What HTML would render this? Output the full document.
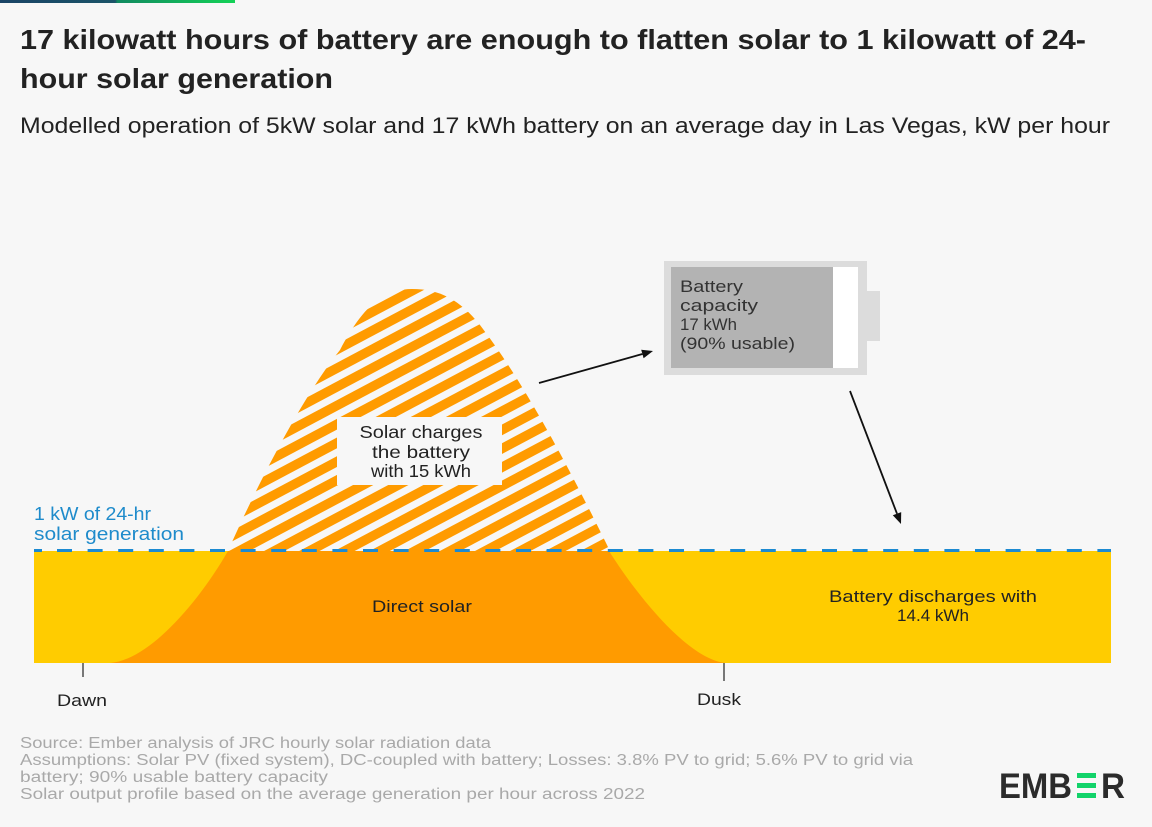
<!DOCTYPE html>
<html>
<head>
<meta charset="utf-8">
<style>
  html, body { margin:0; padding:0; background:#f7f7f7; }
  svg { display:block; }
  text { font-family: "Liberation Sans", "DejaVu Sans", sans-serif; }
</style>
</head>
<body>
<svg width="1152" height="827" viewBox="0 0 1152 827" xmlns="http://www.w3.org/2000/svg">
  <defs>
    <linearGradient id="topbar" x1="0" y1="0" x2="1" y2="0">
      <stop offset="0" stop-color="#1a4466"/>
      <stop offset="0.49" stop-color="#1b5468"/>
      <stop offset="0.5" stop-color="#118a60"/>
      <stop offset="1" stop-color="#14d257"/>
    </linearGradient>
    <pattern id="hatch" patternUnits="userSpaceOnUse" width="60" height="16.5" patternTransform="rotate(-28)">
      <rect x="0" y="0" width="60" height="9.5" fill="#FF9B00"/>
    </pattern>
  </defs>

  <rect x="0" y="0" width="1152" height="827" fill="#f7f7f7"/>
  <rect x="0" y="0" width="235" height="3" fill="url(#topbar)"/>

  <!-- Title -->
  <text x="20" y="49" font-size="28" font-weight="bold" fill="#222" textLength="1066" lengthAdjust="spacingAndGlyphs">17 kilowatt hours of battery are enough to flatten solar to 1 kilowatt of 24-</text>
  <text x="20" y="88" font-size="28" font-weight="bold" fill="#222" textLength="313" lengthAdjust="spacingAndGlyphs">hour solar generation</text>
  <text x="20" y="133" font-size="22" fill="#222" textLength="1090" lengthAdjust="spacingAndGlyphs">Modelled operation of 5kW solar and 17 kWh battery on an average day in Las Vegas, kW per hour</text>

  <!-- Yellow battery discharge band -->
  <rect x="34" y="551" width="1077" height="112" fill="#FFCC00"/>
  <!-- Direct solar orange -->
  <path d="M110,663 C150,660 200,600 228,551 L609,551 C640,600 690,660 726,663 Z" fill="#FF9B00"/>

  <!-- Hatched hump -->
  <path d="M228,551 C255,490 300,400 340,350 C360,312 380,289 412,289 C440,289 460,300 480,325 C530,390 580,490 610,551 Z" fill="url(#hatch)"/>

  <!-- Text box over hump -->
  <rect x="337" y="417" width="165" height="68" fill="#f7f7f7"/>
  <text x="421" y="438" font-size="17.5" fill="#222" text-anchor="middle" textLength="123" lengthAdjust="spacingAndGlyphs">Solar charges</text>
  <text x="421" y="458" font-size="17.5" fill="#222" text-anchor="middle" textLength="98" lengthAdjust="spacingAndGlyphs">the battery</text>
  <text x="421" y="477" font-size="17.5" fill="#222" text-anchor="middle" textLength="100" lengthAdjust="spacingAndGlyphs">with 15 kWh</text>

  <!-- Dashed 1kW line -->
  <line x1="34" y1="550.5" x2="42" y2="550.5" stroke="#1C8AD1" stroke-width="3"/>
  <line x1="57" y1="550.5" x2="1111" y2="550.5" stroke="#1C8AD1" stroke-width="3" stroke-dasharray="15 15.6"/>

  <text x="34" y="520" font-size="18" fill="#1E8BCB" textLength="117" lengthAdjust="spacingAndGlyphs">1 kW of 24-hr</text>
  <text x="34" y="540" font-size="18" fill="#1E8BCB" textLength="150" lengthAdjust="spacingAndGlyphs">solar generation</text>

  <!-- Battery icon -->
  <rect x="664" y="261" width="203" height="114" fill="#dcdcdc"/>
  <rect x="867" y="291" width="13" height="50" fill="#dcdcdc"/>
  <rect x="671" y="267" width="162" height="101" fill="#b3b3b3"/>
  <rect x="833" y="267" width="25" height="101" fill="#ffffff"/>
  <text x="680" y="292" font-size="17" fill="#333" textLength="63" lengthAdjust="spacingAndGlyphs">Battery</text>
  <text x="680" y="311" font-size="17" fill="#333" textLength="78" lengthAdjust="spacingAndGlyphs">capacity</text>
  <text x="680" y="330" font-size="17" fill="#333" textLength="57" lengthAdjust="spacingAndGlyphs">17 kWh</text>
  <text x="680" y="349" font-size="17" fill="#333" textLength="115" lengthAdjust="spacingAndGlyphs">(90% usable)</text>

  <!-- Arrows -->
  <line x1="539" y1="383" x2="642.4" y2="354" stroke="#111" stroke-width="1.8"/>
  <polygon points="653,351 641.2,349.7 643.6,358.3" fill="#111"/>
  <line x1="850" y1="391" x2="897" y2="513.7" stroke="#111" stroke-width="1.8"/>
  <polygon points="901,524 901.2,512.1 892.8,515.3" fill="#111"/>

  <!-- Chart labels -->
  <text x="422" y="612" font-size="17" fill="#222" text-anchor="middle" textLength="100" lengthAdjust="spacingAndGlyphs">Direct solar</text>
  <text x="933" y="602" font-size="17" fill="#222" text-anchor="middle" textLength="208" lengthAdjust="spacingAndGlyphs">Battery discharges with</text>
  <text x="933" y="621" font-size="17" fill="#222" text-anchor="middle" textLength="72" lengthAdjust="spacingAndGlyphs">14.4 kWh</text>

  <!-- Ticks -->
  <line x1="83" y1="663" x2="83" y2="677" stroke="#333" stroke-width="1.3"/>
  <line x1="724" y1="663" x2="724" y2="681" stroke="#333" stroke-width="1.3"/>
  <text x="82" y="706" font-size="17" fill="#222" text-anchor="middle" textLength="50" lengthAdjust="spacingAndGlyphs">Dawn</text>
  <text x="719" y="705" font-size="17" fill="#222" text-anchor="middle" textLength="44" lengthAdjust="spacingAndGlyphs">Dusk</text>

  <!-- Footer -->
  <text x="20" y="748" font-size="15.5" fill="#a9a9a9" textLength="471" lengthAdjust="spacingAndGlyphs">Source: Ember analysis of JRC hourly solar radiation data</text>
  <text x="20" y="765" font-size="15.5" fill="#a9a9a9" textLength="893" lengthAdjust="spacingAndGlyphs">Assumptions: Solar PV (fixed system), DC-coupled with battery; Losses: 3.8% PV to grid; 5.6% PV to grid via</text>
  <text x="20" y="782" font-size="15.5" fill="#a9a9a9" textLength="308" lengthAdjust="spacingAndGlyphs">battery; 90% usable battery capacity</text>
  <text x="20" y="799" font-size="15.5" fill="#a9a9a9" textLength="625" lengthAdjust="spacingAndGlyphs">Solar output profile based on the average generation per hour across 2022</text>

  <!-- EMBER logo -->
  <text x="999" y="798" font-size="35" font-weight="bold" fill="#2b2b2b" textLength="73" lengthAdjust="spacingAndGlyphs">EMB</text>
  <rect x="1077" y="773" width="19" height="5" fill="#12d36a"/>
  <rect x="1077" y="783" width="19" height="5" fill="#12d36a"/>
  <rect x="1077" y="793" width="19" height="5" fill="#12d36a"/>
  <text x="1101" y="798" font-size="35" font-weight="bold" fill="#2b2b2b" textLength="24" lengthAdjust="spacingAndGlyphs">R</text>
</svg>
</body>
</html>
